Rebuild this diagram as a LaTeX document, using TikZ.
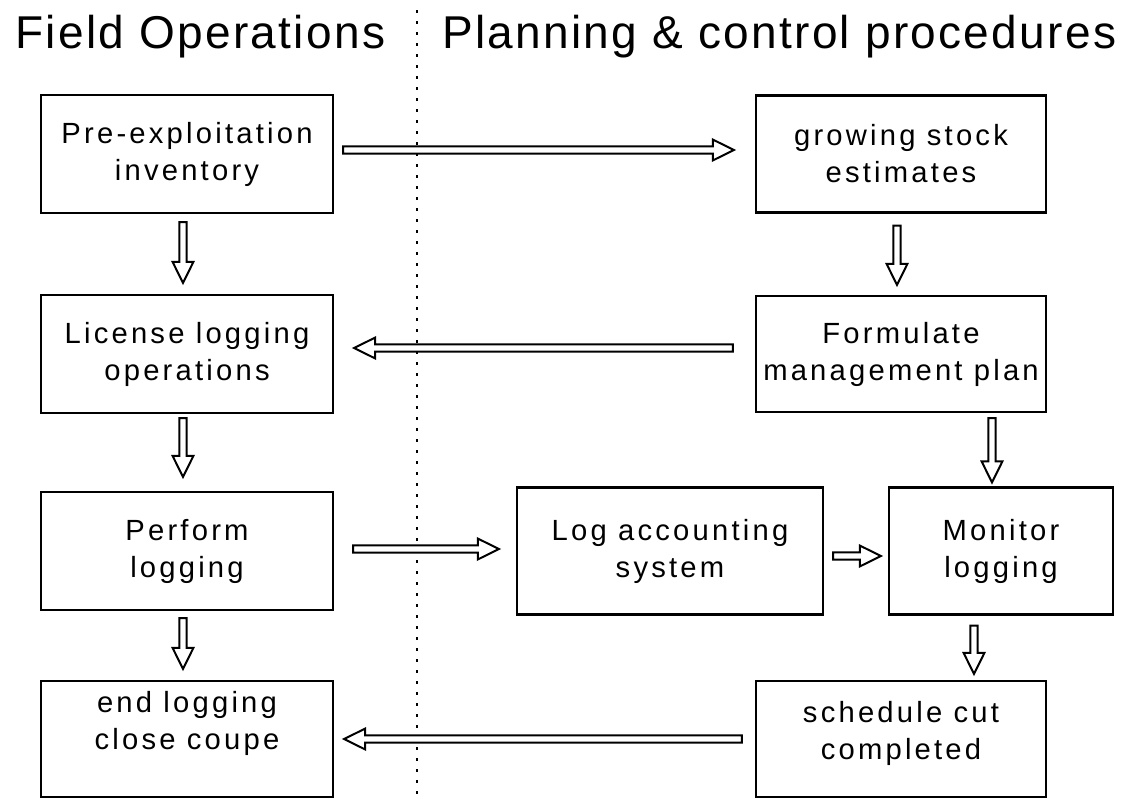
\documentclass[tikz,border=0pt]{standalone}
\usepackage{fontspec}
\setmainfont{Liberation Sans}
\newfontfamily\boxfont[LetterSpace=11]{Liberation Sans}
\newfontfamily\titlefont[LetterSpace=5]{Liberation Sans}
\usetikzlibrary{positioning,calc}

\tikzset{
    stage/.style={draw, rectangle, line width=1.1pt, align=center, inner sep=2pt,
        minimum width=146pt, minimum height=59pt,
        font=\boxfont\fontsize{14.6}{18.5}\selectfont},
    heading/.style={anchor=base west, inner sep=0pt,
        font=\titlefont\fontsize{23}{26}\selectfont},
    divider/.style={line width=1.2pt, dash pattern=on 1.5pt off 4pt},
    blockarrow/.style={draw, fill=white, line width=1pt, line join=miter,
        to path={let \p1=(\tikztostart), \p2=(\tikztotarget),
            \n1={atan2(\y2-\y1,\x2-\x1)}, \n2={veclen(\x2-\x1,\y2-\y1)} in
            {[shift={(\p1)}, rotate=\n1]
            (0pt,-1.8pt) -- ({\n2*1pt-10.5pt},-1.8pt) -- ({\n2*1pt-10.5pt},-5.2pt)
            -- ({\n2*1pt},0pt) -- ({\n2*1pt-10.5pt},5.2pt) -- ({\n2*1pt-10.5pt},1.8pt)
            -- (0pt,1.8pt) -- cycle}}},
}

\begin{document}
\begin{tikzpicture}[node distance=100pt]
    \fill[white] (0pt,0pt) rectangle (572.5pt,-399pt);
    \useasboundingbox (0pt,0pt) rectangle (572.5pt,-399pt);

    % Headings
    \node[heading] (fieldhead) at (7.5pt,-24pt) {Field Operations};
    \node[heading] (planhead) at (221pt,-24pt) {Planning \& control procedures};
    \draw[divider] (208.5pt,-5pt) -- (208.5pt,-399pt);

    % Field operations
    \node[stage] (inventory) at (93.5pt,-77pt) {Pre-exploitation\\inventory};
    \node[stage, below of=inventory, node distance=100pt] (license) {License logging\\operations};
    \node[stage, below of=license, node distance=98.5pt] (perform) {Perform\\logging};
    \node[stage, below of=perform, node distance=94pt, minimum height=58pt, text depth=19pt] (endlog) {end logging\\close coupe};

    % Planning & control
    \node[stage, right of=inventory, node distance=357pt, minimum width=145pt, minimum height=58.5pt] (growing) {growing stock\\estimates};
    \node[stage, below of=growing, node distance=100pt, minimum width=145pt, minimum height=58pt] (formulate) {Formulate\\management plan};
    \node[stage, right of=perform, node distance=241.5pt, minimum width=153pt, minimum height=63.5pt] (accounting) {Log accounting\\system};
    \node[stage, right of=accounting, node distance=165.5pt, minimum width=112pt, minimum height=63.5pt] (monitor) {Monitor\\logging};
    \node[stage, right of=endlog, node distance=357pt, minimum width=145pt, minimum height=58pt, text depth=9pt] (schedule) {schedule cut\\completed};

    % Arrows
    \draw[blockarrow] ([xshift=4.5pt,yshift=2pt]inventory.east) to ([xshift=-10.5pt,yshift=2pt]growing.west);
    \draw[blockarrow] ([xshift=-2pt,yshift=-4pt]inventory.south) to ([xshift=-2pt,yshift=5.5pt]license.north);
    \draw[blockarrow] ([xshift=-2pt,yshift=-2pt]license.south) to ([xshift=-2pt,yshift=7pt]perform.north);
    \draw[blockarrow] ([xshift=-2pt,yshift=-3.5pt]perform.south) to ([xshift=-2pt,yshift=5.5pt]endlog.north);
    \draw[blockarrow] ([xshift=-2pt,yshift=-6pt]growing.south) to ([xshift=-2pt,yshift=5pt]formulate.north);
    \draw[blockarrow] ([xshift=-11pt,yshift=3pt]formulate.west) to ([xshift=10pt,yshift=3pt]license.east);
    \draw[blockarrow] ([xshift=45.5pt,yshift=-2.5pt]formulate.south) to ([xshift=-4.5pt,yshift=2pt]monitor.north);
    \draw[blockarrow] ([xshift=9.5pt,yshift=1pt]perform.east) to ([xshift=-8.5pt,yshift=1pt]accounting.west);
    \draw[blockarrow] ([xshift=4.5pt,yshift=-2.5pt]accounting.east) to ([xshift=-3.5pt,yshift=-2.5pt]monitor.west);
    \draw[blockarrow] ([xshift=-13.5pt,yshift=-5pt]monitor.south) to ([xshift=36.5pt,yshift=3pt]schedule.north);
    \draw[blockarrow] ([xshift=-6.5pt]schedule.west) to ([xshift=5pt]endlog.east);
\end{tikzpicture}
\end{document}
